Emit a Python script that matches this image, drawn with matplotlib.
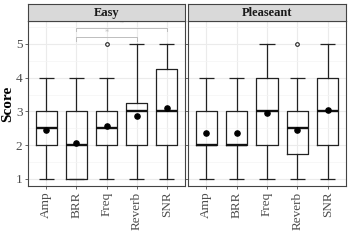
import matplotlib
matplotlib.use("Agg")
import matplotlib.pyplot as plt

plt.rcParams["font.family"] = ["Liberation Serif", "DejaVu Serif"]

# ---------------------------------------------------------------------------
# Data
# ---------------------------------------------------------------------------
groups = ["Amp", "BRR", "Freq", "Reverb", "SNR"]
panels = ["Easy", "Pleaseant"]

easy_lo     = [1, 1, 1, 1, 1]
easy_q1     = [2, 1, 2, 2, 2]
easy_med    = [2.5, 2, 2.5, 3, 3]
easy_q3     = [3, 3, 3, 3.25, 4.25]
easy_hi     = [4, 4, 4, 5, 5]
easy_mean   = [2.45, 2.07, 2.57, 2.85, 3.1]
easy_fliers = [[], [], [5], [], []]

pl_lo     = [1, 1, 1, 1, 1]
pl_q1     = [2, 2, 2, 1.75, 2]
pl_med    = [2, 2, 3, 2.5, 3]
pl_q3     = [3, 3, 4, 3, 4]
pl_hi     = [4, 4, 5, 4, 5]
pl_mean   = [2.35, 2.35, 2.95, 2.45, 3.03]
pl_fliers = [[], [], [], [5], []]

# significance brackets on the Easy panel
sig_pairs  = [("BRR", "Reverb"), ("BRR", "SNR")]
sig_y      = [5.2, 5.47]
sig_labels = ["*", "*"]

W, H = 349, 246
fig = plt.figure(figsize=(W / 100, H / 100), dpi=100)

panel_box = [(28, 185), (188, 346)]
top_px, bot_px, strip_top = 21, 186, 4

data = [
    (easy_lo, easy_q1, easy_med, easy_q3, easy_hi, easy_mean, easy_fliers),
    (pl_lo, pl_q1, pl_med, pl_q3, pl_hi, pl_mean, pl_fliers),
]

for i, (title, (x0, x1), d) in enumerate(zip(panels, panel_box, data)):
    lo, q1, med, q3, hi, mean, fl = d
    ax = fig.add_axes([x0 / W, (H - bot_px) / H, (x1 - x0) / W, (bot_px - top_px) / H])
    pos = list(range(1, len(groups) + 1))
    stats = [
        dict(whislo=lo[k], q1=q1[k], med=med[k], q3=q3[k], whishi=hi[k], fliers=fl[k])
        for k in range(len(groups))
    ]
    ax.bxp(stats, positions=pos, widths=0.7, showfliers=True, showcaps=False,
           boxprops=dict(color="#222222", lw=0.9),
           whiskerprops=dict(color="#222222", lw=0.9),
           medianprops=dict(color="#111111", lw=1.7),
           flierprops=dict(marker="o", markersize=2.6, markerfacecolor="white",
                           markeredgecolor="#222222", markeredgewidth=0.8),
           zorder=3)
    # whisker caps (errorbar style)
    for p, a, b in zip(pos, lo, hi):
        ax.hlines([a, b], p - 0.25, p + 0.25, color="#222222", lw=0.9, zorder=3)
    ax.scatter(pos, mean, s=14, color="black", zorder=4)

    ax.set_xlim(0.4, 5.6)
    ax.set_ylim(0.79, 5.68)
    ax.set_yticks([1, 2, 3, 4, 5])
    ax.set_yticks([1.5, 2.5, 3.5, 4.5, 5.5], minor=True)
    ax.set_xticks(pos)
    ax.set_xticklabels(groups, rotation=90, fontsize=9.5, color="#4d4d4d")
    ax.grid(True, which="major", color="#ebebeb", lw=0.8, zorder=0)
    ax.grid(True, which="minor", axis="y", color="#f4f4f4", lw=0.5, zorder=0)
    ax.tick_params(axis="both", which="major", length=2.5, width=0.6, color="#4d4d4d",
                   pad=1.5, labelsize=9.5, labelcolor="#4d4d4d")
    ax.tick_params(which="minor", length=0)
    for s in ax.spines.values():
        s.set_color("#444444")
        s.set_linewidth(0.8)
    if i == 0:
        ax.set_ylabel("Score", fontsize=11, fontweight="bold")
        ax.yaxis.set_label_coords(-0.085, 0.5)
        for (ga, gb), y, lab in zip(sig_pairs, sig_y, sig_labels):
            xa, xb = groups.index(ga) + 1, groups.index(gb) + 1
            ax.plot([xa, xa, xb, xb], [y - 0.1, y, y, y - 0.1], color="#bdbdbd", lw=0.7,
                    zorder=2)
            ax.text((xa + xb) / 2, y + 0.02, lab, ha="center", va="bottom",
                    fontsize=6, color="#bdbdbd")
    else:
        ax.tick_params(axis="y", labelleft=False)

    # facet strip
    sax = fig.add_axes([x0 / W, (H - top_px) / H, (x1 - x0) / W, (top_px - strip_top) / H])
    sax.set_facecolor("#d9d9d9")
    sax.set_xticks([])
    sax.set_yticks([])
    for s in sax.spines.values():
        s.set_color("#444444")
        s.set_linewidth(0.8)
    sax.text(0.5, 0.45, title, ha="center", va="center", fontsize=9,
             fontweight="bold", color="#1a1a1a", transform=sax.transAxes)

fig.savefig("out.png", dpi=100)
